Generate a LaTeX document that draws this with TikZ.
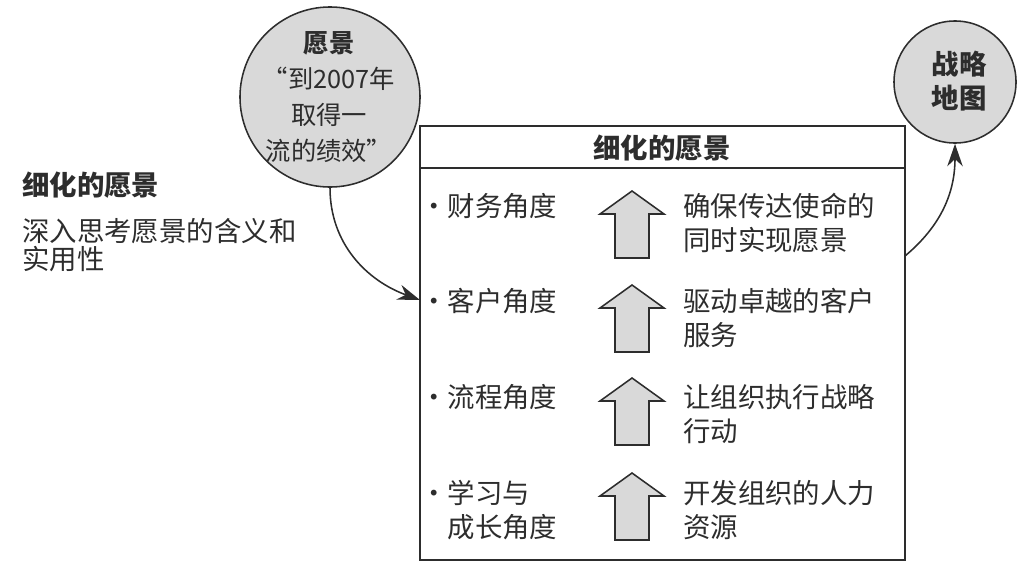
\documentclass[tikz,border=0pt]{standalone}
\usepackage{fontspec}
\setmainfont{Noto Sans CJK SC}
\usetikzlibrary{arrows.meta}
\definecolor{ink}{RGB}{45,45,45}
\definecolor{shade}{RGB}{217,217,217}
\newcommand{\bodyfont}{\fontsize{19.5}{24}\selectfont}

\tikzset{
  disc/.style={circle,draw=ink,fill=shade,line width=1.1pt,inner sep=0pt},
  txt/.style={text=ink,inner sep=0pt,align=left,font=\bodyfont},
  flow/.style={ink,line width=1.1pt,-{Stealth[length=16pt,width=11pt]}},
}

\begin{document}
\begin{tikzpicture}[x=0.025cm,y=-0.025cm]
\useasboundingbox (0,0) rectangle (1024,579);

% the two circles
\node[disc,minimum size=4.5cm] (vision) at (330,97) {};
\node[txt,align=center,font=\fontsize{18}{25.5}\selectfont] (visiontext) at (329,97) {\textbf{愿景}\\“到2007年\\取得一\\流的绩效”};
\node[disc,minimum size=3.05cm] (map) at (955,82) {};
\node[txt,align=center,font=\bfseries\bodyfont] (maptext) at (959,81) {战略\\地图};

% left notes
\node[txt,anchor=west,font=\bfseries\bodyfont] (head) at (22,185) {细化的愿景};
\node[txt,anchor=north west,font=\fontsize{19.5}{20}\selectfont] (note) at (22,218) {深入思考愿景的含义和\\实用性};

% the box
\draw[ink,line width=1.1pt] (420,126) rectangle (905,560);
\draw[ink,line width=1.1pt] (420,168) -- (905,168);
\node[txt,font=\bfseries\bodyfont] (title) at (662,148) {细化的愿景};

\foreach \t/\top/\name/\goal [count=\i] in {
  191/193/{·财务角度}/{确保传达使命的\\同时实现愿景},
  285/288/{·客户角度}/{驱动卓越的客户\\服务},
  378/384/{·流程角度}/{让组织执行战略\\行动},
  473/480/{·学习与\\\hphantom{·}成长角度}/{开发组织的人力\\资源}} {
  \draw[ink,line width=1.1pt,fill=shade] (632,\t) -- (664,\t+23) -- (649,\t+23) -- (649,\t+67)
    -- (615,\t+67) -- (615,\t+23) -- (600,\t+23) -- cycle;
  \node[txt,anchor=north west] (aspect\i) at (420,\top) {\name};
  \node[txt,anchor=north west] (goal\i) at (683,\top) {\goal};
}

% connectors
\coordinate (enter) at (420,300);
\coordinate (leave) at (905,256);
\draw[flow] (vision.south) to[out=-90,in=160] (enter);
\draw[flow] (leave) to[out=40,in=-90] (map.south);
\end{tikzpicture}
\end{document}
